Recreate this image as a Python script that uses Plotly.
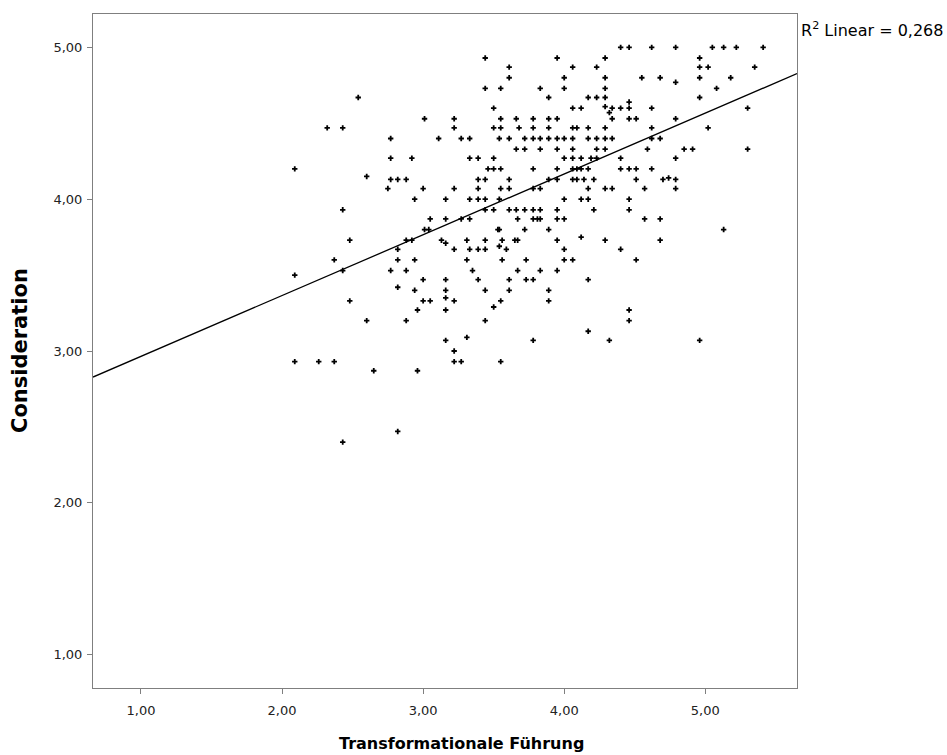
import plotly.graph_objects as go

# Scatter of leadership scale means (x) against consideration scale means (y)
fuehrung = [
    2.54, 2.32, 2.43, 2.77, 2.77, 2.92, 2.09, 2.60, 2.77, 2.82, 2.88, 2.75, 2.94, 2.43,
    2.48, 2.88, 2.92, 2.82, 2.37, 2.82, 2.94, 2.09, 2.43, 2.77, 2.88, 2.82, 2.94, 2.48,
    2.96, 2.60, 2.88, 2.09, 2.26, 2.37, 2.65, 2.96, 2.82, 2.43,
    3.44, 3.61, 3.61, 3.44, 3.55, 3.50, 3.01, 3.22, 3.55, 3.66,
    3.22, 3.50, 3.55, 3.68,
    3.11, 3.27, 3.33, 3.54, 3.61, 3.72,
    3.66, 3.72,
    3.33, 3.39, 3.50,
    3.46, 3.50, 3.55,
    3.39, 3.44, 3.61,
    3.00, 3.22, 3.39, 3.55, 3.61,
    3.16, 3.33, 3.39, 3.44, 3.54,
    3.44, 3.50, 3.61, 3.66, 3.72,
    3.05, 3.16, 3.27, 3.33, 3.67,
    3.01, 3.04, 3.53, 3.54, 3.72,
    3.13, 3.31, 3.56, 3.65, 3.67, 3.16, 3.44, 3.54,
    3.22, 3.33, 3.39, 3.44, 3.59,
    3.31, 3.56, 3.73,
    3.35, 3.67,
    3.00, 3.16, 3.39, 3.61, 3.73,
    3.16, 3.44, 3.61,
    3.00, 3.05, 3.22, 3.55, 3.16, 3.16, 3.50, 3.44, 3.16, 3.31, 3.22, 3.22, 3.27, 3.55,
    4.40, 4.46, 3.95, 4.29, 4.06, 4.23, 4.00, 4.29, 3.83, 4.00, 4.29,
    3.89, 4.17, 4.23, 4.29, 4.46, 4.06, 4.12, 4.29, 4.34, 4.40, 4.46, 4.32,
    3.78, 3.89, 3.95, 4.34, 4.46, 4.51,
    3.78, 3.89, 4.06, 4.09, 4.17, 4.29,
    3.78, 3.83, 3.89, 3.95, 4.00, 4.06, 4.17, 4.23, 4.29, 4.34,
    3.83, 3.95, 4.06, 4.23, 4.29,
    4.00, 4.06, 4.12, 4.19, 4.23, 4.40,
    3.78, 3.95, 4.06, 4.09, 4.12, 4.17, 4.40, 4.46, 4.51,
    3.89, 3.95, 4.06, 4.09, 4.14, 4.21, 4.51,
    3.78, 3.83, 4.17, 4.29, 4.34,
    4.00, 4.12, 4.17, 4.46,
    3.78, 3.83, 3.95, 4.21, 4.46,
    3.78, 3.81, 3.83, 3.95, 4.00,
    3.89, 4.12, 3.95, 4.29, 4.00, 4.40, 4.00, 4.06, 4.51, 3.83, 3.95, 3.78, 4.17, 3.89,
    3.89, 4.46, 4.46, 4.17, 3.78, 4.32,
    4.62, 4.79, 5.05, 5.13, 5.22, 5.41,
    4.96, 4.96, 5.02, 5.35,
    4.55, 4.68, 4.96, 5.18, 4.79, 5.08, 4.96, 4.62, 5.30, 4.79, 4.62, 5.02, 4.62, 4.68,
    4.59, 4.85, 4.91, 5.30, 4.79, 4.62, 4.70, 4.74, 4.79, 4.57, 4.79, 4.57, 4.68,
    5.13, 4.68, 4.96,
]

consideration = [
    4.67, 4.47, 4.47, 4.40, 4.27, 4.27, 4.20, 4.15, 4.13, 4.13, 4.13, 4.07, 4.00, 3.93,
    3.73, 3.73, 3.73, 3.67, 3.60, 3.60, 3.60, 3.50, 3.53, 3.53, 3.53, 3.42, 3.40, 3.33,
    3.27, 3.20, 3.20, 2.93, 2.93, 2.93, 2.87, 2.87, 2.47, 2.40,
    4.93, 4.87, 4.80, 4.73, 4.73, 4.60, 4.53, 4.53, 4.53, 4.53,
    4.47, 4.47, 4.47, 4.47,
    4.40, 4.40, 4.40, 4.40, 4.40, 4.40,
    4.33, 4.33,
    4.27, 4.27, 4.27,
    4.20, 4.20, 4.20,
    4.13, 4.13, 4.13,
    4.07, 4.07, 4.07, 4.07, 4.07,
    4.00, 4.00, 4.00, 4.00, 4.00,
    3.93, 3.93, 3.93, 3.93, 3.93,
    3.87, 3.87, 3.87, 3.87, 3.87,
    3.80, 3.80, 3.80, 3.80, 3.80,
    3.73, 3.73, 3.73, 3.73, 3.73, 3.71, 3.73, 3.69,
    3.67, 3.67, 3.67, 3.67, 3.67,
    3.60, 3.60, 3.60,
    3.53, 3.53,
    3.47, 3.47, 3.47, 3.47, 3.47,
    3.40, 3.40, 3.40,
    3.33, 3.33, 3.33, 3.33, 3.35, 3.27, 3.29, 3.20, 3.07, 3.09, 3.00, 2.93, 2.93, 2.93,
    5.00, 5.00, 4.93, 4.93, 4.87, 4.87, 4.80, 4.80, 4.73, 4.73, 4.73,
    4.67, 4.67, 4.67, 4.67, 4.64, 4.60, 4.60, 4.61, 4.60, 4.60, 4.60, 4.57,
    4.53, 4.53, 4.53, 4.53, 4.53, 4.53,
    4.47, 4.47, 4.47, 4.47, 4.47, 4.47,
    4.40, 4.40, 4.40, 4.40, 4.40, 4.40, 4.40, 4.40, 4.40, 4.40,
    4.33, 4.33, 4.33, 4.33, 4.33,
    4.27, 4.27, 4.27, 4.27, 4.27, 4.27,
    4.20, 4.20, 4.20, 4.20, 4.20, 4.20, 4.20, 4.20, 4.20,
    4.13, 4.13, 4.13, 4.13, 4.13, 4.13, 4.13,
    4.07, 4.07, 4.07, 4.07, 4.07,
    4.00, 4.00, 4.00, 4.00,
    3.93, 3.93, 3.93, 3.93, 3.93,
    3.87, 3.87, 3.87, 3.87, 3.87,
    3.80, 3.75, 3.73, 3.73, 3.67, 3.67, 3.60, 3.60, 3.60, 3.53, 3.53, 3.47, 3.47, 3.40,
    3.33, 3.27, 3.20, 3.13, 3.07, 3.07,
    5.00, 5.00, 5.00, 5.00, 5.00, 5.00,
    4.93, 4.87, 4.87, 4.87,
    4.80, 4.80, 4.80, 4.80, 4.77, 4.73, 4.67, 4.60, 4.60, 4.53, 4.47, 4.47, 4.40, 4.40,
    4.33, 4.33, 4.33, 4.33, 4.27, 4.20, 4.13, 4.14, 4.13, 4.07, 4.07, 3.87, 3.87,
    3.80, 3.73, 3.07,
]

# Linear fit line (intercept, slope) and its R²
fit_intercept = 2.564
fit_slope = 0.4006
r_squared = "0,268"

x_range = [0.66, 5.65]
y_range = [0.78, 5.22]
tick_values = [1, 2, 3, 4, 5]
tick_labels = ["1,00", "2,00", "3,00", "4,00", "5,00"]

x_title = "Transformationale Führung"
y_title = "Consideration"

fig = go.Figure()

fig.add_trace(go.Scatter(
    x=fuehrung,
    y=consideration,
    mode="markers",
    marker=dict(symbol="cross", size=4.5, color="black", line=dict(width=0)),
    hoverinfo="x+y",
    showlegend=False,
))

fit_x = x_range
fit_y = [fit_intercept + fit_slope * v for v in fit_x]
fig.add_trace(go.Scatter(
    x=fit_x,
    y=fit_y,
    mode="lines",
    line=dict(color="black", width=1.3),
    hoverinfo="skip",
    showlegend=False,
))

axis_common = dict(
    showgrid=False,
    zeroline=False,
    showline=True,
    linecolor="#7f7f7f",
    linewidth=1,
    mirror=True,
    ticks="outside",
    ticklen=5,
    tickcolor="#7f7f7f",
    tickwidth=1,
    tickvals=tick_values,
    ticktext=tick_labels,
    tickfont=dict(family="DejaVu Sans", size=13, color="#222222"),
)

fig.update_layout(
    width=947,
    height=755,
    margin=dict(l=93, r=150, t=14, b=67),
    paper_bgcolor="white",
    plot_bgcolor="white",
    xaxis=dict(range=x_range, ticklabelstandoff=5, **axis_common),
    yaxis=dict(range=y_range, ticklabelstandoff=2, **axis_common),
    annotations=[
        dict(
            x=1.0, xref="paper", xanchor="left", xshift=2,
            y=5.12, yref="y", yanchor="middle",
            text="R<sup>2</sup> Linear = " + r_squared,
            showarrow=False,
            font=dict(family="DejaVu Sans", size=16, color="black"),
        ),
        dict(
            x=(461 - 93) / (797 - 93), xref="paper", xanchor="center",
            y=0, yref="paper", yanchor="top", yshift=-44,
            text="<b>" + x_title + "</b>",
            showarrow=False,
            font=dict(family="DejaVu Sans", size=16, color="black"),
        ),
        dict(
            x=0, xref="paper", xanchor="center", xshift=-73,
            y=0.5, yref="paper", yanchor="middle",
            text="<b>" + y_title + "</b>",
            textangle=-90,
            showarrow=False,
            font=dict(family="DejaVu Sans", size=21, color="black"),
        ),
    ],
)

fig.write_html("out.html")
